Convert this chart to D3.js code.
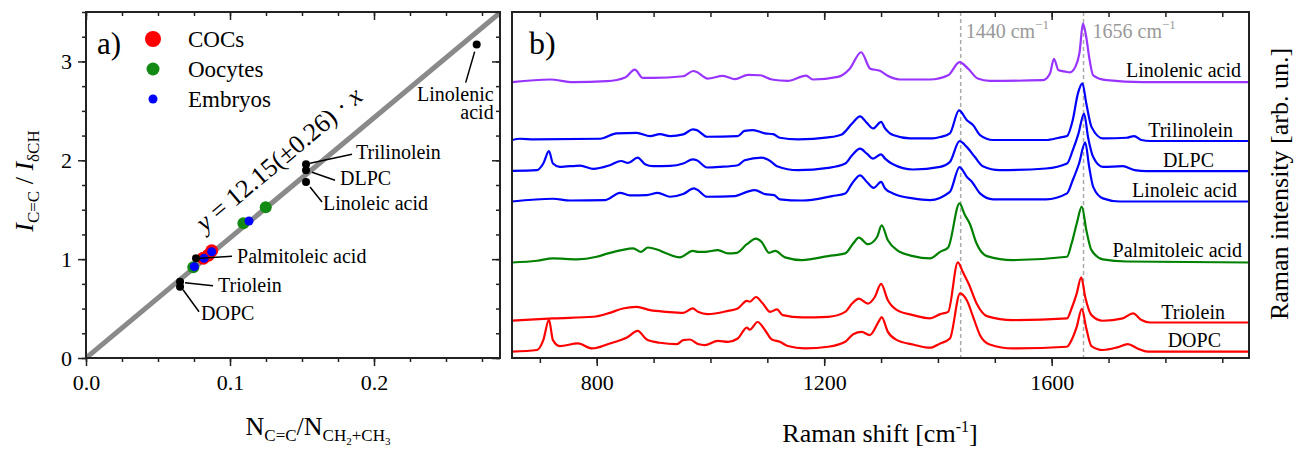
<!DOCTYPE html>
<html>
<head>
<meta charset="utf-8">
<script src="https://cdn.jsdelivr.net/npm/d3@7"></script>
<style>
  body { margin: 0; background: #fff; }
  svg, svg text { font-family: "Liberation Serif", "Times New Roman", serif; }
</style>
</head>
<body>
<svg id="chart" width="1306" height="452"></svg>
<script>
// ---- panel a data ----
const slope = 12.15;
const cocs = [[0.0815, 1.01], [0.085, 1.04], [0.0873, 1.085]];
const oocytes = [[0.0745, 0.917], [0.1093, 1.362], [0.1248, 1.524]];
const embryos = [[0.0752, 0.924], [0.082, 1.008], [0.0873, 1.075], [0.1132, 1.386]];
const refNames = ["Linolenic acid", "Trilinolein", "DLPC", "Linoleic acid", "Palmitoleic acid", "Triolein", "DOPC"];
const refX = [0.2713, 0.1528, 0.1528, 0.1528, 0.0764, 0.0653, 0.0653];
const refY = [3.17, 1.96, 1.90, 1.78, 1.008, 0.772, 0.721];
const aTicksX = [0, 0.1, 0.2];
const aTicksY = [0, 1, 2, 3];

// ---- panel b data (Raman shift, intensity above own offset) ----
const specNames = ["Linolenic acid", "Trilinolein", "DLPC", "Linoleic acid", "Palmitoleic acid", "Triolein", "DOPC"];
const specOffsets = [2.79, 2.195, 1.89, 1.583, 0.966, 0.369, 0.064];
const specColors = ["#9933ff", "#0000ff", "#0000ff", "#0000ff", "#008000", "#ff0000", "#ff0000"];

const linolenic = [[651,0],[718,0.027],[758,0],[818,0.01],[850,0.047],[867,0.127],[881,0.043],[899,0.043],[952,0.06],[970,0.113],[976,0.103],[995,0.037],[1022,0.063],[1043,0.03],[1066,0.073],[1087,0.07],[1108,0.027],[1136,0.013],[1168,0.067],[1180,0.027],[1224,0.053],[1245,0.137],[1265,0.303],[1281,0.137],[1298,0.115],[1310,0.07],[1333,0.027],[1386,0.027],[1418,0.07],[1438,0.203],[1453,0.137],[1470,0.037],[1491,0.013],[1585,0.02],[1597,0.087],[1604,0.237],[1612,0.12],[1622,0.11],[1632,0.10],[1642,0.16],[1649,0.30],[1655,0.593],[1661,0.45],[1666,0.25],[1673,0.07],[1697,0.02],[1760,0],[1947,0]];
const trilinolein = [[651,0.01],[665,0.023],[690,0.017],[806,0.023],[835,0.077],[870,0.083],[894,0.05],[911,0.07],[929,0.05],[952,0.067],[969,0.117],[976,0.11],[994,0.043],[1048,0.05],[1060,0.103],[1075,0.11],[1096,0.077],[1110,0.07],[1122,0.033],[1154,0.017],[1207,0.037],[1231,0.067],[1249,0.177],[1263,0.25],[1275,0.183],[1286,0.127],[1300,0.193],[1307,0.127],[1321,0.06],[1351,0.027],[1391,0.027],[1404,0.04],[1421,0.077],[1437,0.31],[1451,0.21],[1462,0.16],[1474,0.06],[1497,0.01],[1590,0.01],[1614,0.035],[1627,0.05],[1637,0.21],[1646,0.477],[1654,0.583],[1661,0.377],[1670,0.143],[1690,0.027],[1732,0.033],[1745,0.05],[1758,0.01],[1773,0],[1947,0]];
const dlpc = [[651,0.003],[695,0.01],[706,0.077],[716,0.203],[723,0.077],[735,0.043],[771,0.057],[794,0.023],[823,0.06],[843,0.103],[855,0.083],[872,0.137],[885,0.07],[899,0.05],[929,0.053],[952,0.077],[969,0.12],[976,0.11],[994,0.037],[1017,0.043],[1048,0.06],[1060,0.11],[1090,0.137],[1105,0.103],[1117,0.05],[1154,0.01],[1207,0.033],[1237,0.077],[1249,0.16],[1263,0.227],[1275,0.177],[1286,0.127],[1300,0.17],[1307,0.127],[1321,0.07],[1356,0.017],[1404,0.043],[1421,0.093],[1438,0.303],[1451,0.243],[1465,0.143],[1479,0.05],[1509,0.01],[1590,0.027],[1627,0.077],[1637,0.21],[1647,0.377],[1657,0.583],[1664,0.343],[1673,0.143],[1690,0.043],[1725,0.05],[1746,0.01],[1767,0],[1947,0]];
const linoleic = [[651,0],[723,0.028],[753,0.01],[815,0.015],[841,0.088],[858,0.062],[888,0.065],[907,0.088],[929,0.048],[952,0.075],[971,0.132],[976,0.122],[994,0.048],[1043,0.055],[1064,0.098],[1078,0.115],[1096,0.075],[1112,0.065],[1122,0.022],[1161,0.01],[1214,0.055],[1237,0.082],[1249,0.182],[1263,0.265],[1275,0.198],[1287,0.138],[1300,0.198],[1307,0.132],[1321,0.082],[1356,0.032],[1386,0.015],[1421,0.098],[1438,0.348],[1451,0.248],[1460,0.198],[1474,0.082],[1497,0.022],[1590,0.022],[1627,0.082],[1637,0.215],[1648,0.382],[1659,0.598],[1666,0.348],[1673,0.148],[1690,0.032],[1720,0],[1947,0]];
const palmitoleic = [[651,0],[695,0.018],[723,0.042],[765,0.032],[800,0.058],[820,0.092],[844,0.125],[864,0.142],[878,0.108],[890,0.152],[906,0.132],[923,0.092],[946,0.052],[969,0.118],[978,0.108],[990,0.108],[1013,0.125],[1031,0.092],[1046,0.098],[1064,0.185],[1080,0.242],[1090,0.208],[1103,0.098],[1114,0.118],[1131,0.052],[1161,0.025],[1207,0.065],[1237,0.092],[1251,0.192],[1261,0.252],[1277,0.185],[1293,0.258],[1301,0.375],[1312,0.225],[1328,0.125],[1356,0.065],[1386,0.042],[1404,0.108],[1418,0.152],[1438,0.598],[1447,0.485],[1456,0.392],[1468,0.192],[1486,0.065],[1532,0.025],[1627,0.058],[1635,0.192],[1644,0.392],[1653,0.565],[1661,0.325],[1670,0.125],[1690,0.032],[1732,0.01],[1947,0]];
const triolein = [[651,0.008],[723,0.032],[794,0.048],[823,0.088],[846,0.132],[870,0.148],[894,0.115],[923,0.098],[952,0.088],[969,0.132],[978,0.098],[995,0.075],[1031,0.108],[1048,0.132],[1064,0.208],[1069,0.2],[1080,0.248],[1092,0.182],[1105,0.098],[1117,0.122],[1127,0.065],[1161,0.042],[1207,0.048],[1237,0.098],[1249,0.182],[1261,0.232],[1277,0.182],[1289,0.248],[1300,0.38],[1312,0.215],[1328,0.115],[1356,0.065],[1386,0.032],[1404,0.075],[1418,0.098],[1435,0.598],[1444,0.498],[1454,0.382],[1468,0.182],[1486,0.055],[1532,0.015],[1627,0.032],[1635,0.132],[1644,0.282],[1652,0.448],[1659,0.248],[1670,0.065],[1690,0.008],[1725,0.032],[1743,0.082],[1758,0.015],[1773,-0.01],[1947,-0.01]];
const dopc = [[651,0],[695,0.017],[706,0.117],[716,0.323],[723,0.117],[735,0.057],[767,0.083],[792,0.033],[823,0.083],[853,0.143],[872,0.21],[888,0.123],[911,0.09],[941,0.077],[952,0.117],[964,0.123],[978,0.077],[990,0.067],[1013,0.11],[1031,0.1],[1048,0.133],[1064,0.243],[1069,0.223],[1083,0.3],[1096,0.217],[1108,0.123],[1122,0.1],[1136,0.057],[1166,0.033],[1207,0.05],[1237,0.1],[1251,0.177],[1266,0.2],[1280,0.167],[1297,0.317],[1301,0.35],[1312,0.2],[1328,0.117],[1356,0.073],[1386,0.04],[1404,0.083],[1421,0.133],[1439,0.59],[1451,0.517],[1462,0.35],[1474,0.167],[1491,0.073],[1532,0.033],[1627,0.05],[1635,0.117],[1644,0.25],[1653,0.433],[1661,0.233],[1670,0.057],[1690,0.017],[1715,0.043],[1734,0.077],[1751,0.033],[1769,0],[1947,0]];
const spectra = [linolenic, trilinolein, dlpc, linoleic, palmitoleic, triolein, dopc];
const markedShifts = [1440, 1656];
const bTicksX = [800, 1200, 1600];

const serif = "'Liberation Serif', 'Times New Roman', serif";
const svg = d3.select("#chart").attr("font-family", serif);
const frameColor = "#222";

// ================= panel a =================
const ax = { left: 86, right: 500, top: 12, bottom: 358 };
const xA = d3.scaleLinear().domain([0, 0.2875]).range([ax.left, ax.right]);
const yA = d3.scaleLinear().domain([0, 3.5]).range([ax.bottom, ax.top]);

svg.append("clipPath").attr("id", "clipA")
  .append("rect").attr("x", ax.left).attr("y", ax.top)
  .attr("width", ax.right - ax.left).attr("height", ax.bottom - ax.top);

const gA = svg.append("g");

// fit line
gA.append("line")
  .attr("clip-path", "url(#clipA)")
  .attr("x1", xA(0)).attr("y1", yA(0))
  .attr("x2", xA(0.2875)).attr("y2", yA(slope * 0.2875))
  .attr("stroke", "#8a8a8a").attr("stroke-width", 5);

const dots = (data, color, r) => {
  gA.selectAll(null).data(data).enter().append("circle")
    .attr("cx", d => xA(d[0])).attr("cy", d => yA(d[1]))
    .attr("r", r).attr("fill", color);
};
dots(oocytes, "#138a13", 6);
dots(cocs, "#ff0000", 6.5);
dots(embryos, "#0000ff", 4.5);
dots(refX.map((x, i) => [x, refY[i]]), "#000", 4);

// reference labels with leader lines (pixel offsets from the point)
const refLabels = [
  { lead: [-2, 7, -11, 38], text: [17, 56], anchor: "end", lines: ["Linolenic", "acid"] },
  { lead: [4, -1, 46, -10], text: [50, -5] },
  { lead: [6, 2, 29, 10], text: [34, 15] },
  { lead: [4, 5, 16, 20], text: [17, 28] },
  { lead: [4, 0, 36, -2], text: [41, 5] },
  { lead: [5, 1, 33, 4], text: [38, 10] },
  { lead: [3, 3, 19, 25], text: [21, 33] }
];
refLabels.forEach((L, i) => {
  const px = xA(refX[i]), py = yA(refY[i]);
  gA.append("line")
    .attr("x1", px + L.lead[0]).attr("y1", py + L.lead[1])
    .attr("x2", px + L.lead[2]).attr("y2", py + L.lead[3])
    .attr("stroke", "#000").attr("stroke-width", 1.5);
  if (L.lines) {
    L.lines.forEach((s, k) => {
      gA.append("text")
        .attr("x", px + L.text[0]).attr("y", py + L.text[1] + k * 18)
        .attr("font-size", 20).attr("text-anchor", "end").text(s);
    });
  } else {
    gA.append("text")
      .attr("x", px + L.text[0]).attr("y", py + L.text[1])
      .attr("font-size", 20).text(refNames[i]);
  }
});

// equation along the line
const eqX = 0.147;
const eq = gA.append("text")
  .attr("transform", `translate(${xA(eqX)},${yA(slope * eqX)}) rotate(-40)`)
  .attr("y", -20.5).attr("text-anchor", "middle").attr("font-size", 26);
eq.append("tspan").attr("font-style", "italic").text("y");
eq.append("tspan").text(" = 12.15(\u00b10.26) \u00b7 ");
eq.append("tspan").attr("font-style", "italic").text("x");

// legend
const legend = [["COCs", "#ff0000", 8], ["Oocytes", "#138a13", 6.5], ["Embryos", "#0000ff", 4.5]];
legend.forEach((d, i) => {
  gA.append("circle").attr("cx", 153).attr("cy", 39 + i * 30).attr("r", d[2]).attr("fill", d[1]);
  gA.append("text").attr("x", 188).attr("y", 47 + i * 30).attr("font-size", 23).text(d[0]);
});
gA.append("text").attr("x", 97).attr("y", 54).attr("font-size", 31).text("a)");

// axes for a
const styleAxis = (g) => {
  g.attr("font-family", serif);
  g.select(".domain").remove();
  g.selectAll("line").attr("stroke", frameColor).attr("stroke-width", 1.5);
  g.selectAll("text").attr("font-size", 22).attr("fill", "#000");
};
const minorXA = d3.range(0, 0.2876, 0.025);
const minorYA = d3.range(0, 3.51, 0.25);
gA.append("g").attr("transform", `translate(0,${ax.bottom})`)
  .call(d3.axisBottom(xA).tickValues(minorXA).tickSize(4).tickFormat("")).call(styleAxis);
gA.append("g").attr("transform", `translate(0,${ax.bottom})`)
  .call(d3.axisBottom(xA).tickValues(aTicksX).tickSize(8).tickPadding(8.5).tickFormat(d3.format(".1f"))).call(styleAxis);
gA.append("g").attr("transform", `translate(0,${ax.top})`)
  .call(d3.axisBottom(xA).tickValues(minorXA).tickSize(4).tickFormat("")).call(styleAxis);
gA.append("g").attr("transform", `translate(0,${ax.top})`)
  .call(d3.axisBottom(xA).tickValues(aTicksX).tickSize(8).tickFormat("")).call(styleAxis);
gA.append("g").attr("transform", `translate(${ax.left},0)`)
  .call(d3.axisLeft(yA).tickValues(minorYA).tickSize(4).tickFormat("")).call(styleAxis);
gA.append("g").attr("transform", `translate(${ax.left},0)`)
  .call(d3.axisLeft(yA).tickValues(aTicksY).tickSize(8).tickPadding(6).tickFormat(d3.format("d"))).call(styleAxis);
gA.append("g").attr("transform", `translate(${ax.right},0)`)
  .call(d3.axisLeft(yA).tickValues(minorYA).tickSize(4).tickFormat("")).call(styleAxis);
gA.append("g").attr("transform", `translate(${ax.right},0)`)
  .call(d3.axisLeft(yA).tickValues(aTicksY).tickSize(8).tickFormat("")).call(styleAxis);

gA.append("rect").attr("x", ax.left).attr("y", ax.top)
  .attr("width", ax.right - ax.left).attr("height", ax.bottom - ax.top)
  .attr("fill", "none").attr("stroke", frameColor).attr("stroke-width", 2);

// axis titles a
const yLab = svg.append("text").attr("transform", "translate(33,181) rotate(-90)")
  .attr("text-anchor", "middle").attr("font-size", 26);
yLab.append("tspan").attr("font-style", "italic").text("I");
yLab.append("tspan").attr("font-size", 17).attr("dy", 6).text("C=C");
yLab.append("tspan").attr("dy", -6).text(" / ");
yLab.append("tspan").attr("font-style", "italic").text("I");
yLab.append("tspan").attr("font-size", 17).attr("dy", 6).text("\u03b4CH");

const xLab = svg.append("text").attr("x", 318).attr("y", 435)
  .attr("text-anchor", "middle").attr("font-size", 26);
xLab.append("tspan").text("N");
xLab.append("tspan").attr("font-size", 17).attr("dy", 6).text("C=C");
xLab.append("tspan").attr("dy", -6).text("/N");
xLab.append("tspan").attr("font-size", 17).attr("dy", 6).text("CH");
xLab.append("tspan").attr("font-size", 11).attr("dy", 4).text("2");
xLab.append("tspan").attr("font-size", 17).attr("dy", -4).text("+CH");
xLab.append("tspan").attr("font-size", 11).attr("dy", 4).text("3");

// ================= panel b =================
const bx = { left: 512, right: 1249, top: 12, bottom: 358 };
const xB = d3.scaleLinear().domain([651, 1947]).range([bx.left, bx.right]);
const yB = d3.scaleLinear().domain([0, 3.5]).range([bx.bottom, bx.top]);

svg.append("clipPath").attr("id", "clipB")
  .append("rect").attr("x", bx.left).attr("y", bx.top)
  .attr("width", bx.right - bx.left).attr("height", bx.bottom - bx.top);

const gB = svg.append("g");

// marker lines
markedShifts.forEach((s, i) => {
  gB.append("line")
    .attr("x1", xB(s)).attr("x2", xB(s)).attr("y1", bx.top).attr("y2", bx.bottom)
    .attr("stroke", "#aaa").attr("stroke-width", 1.5).attr("stroke-dasharray", "4,3");
  const t = gB.append("text").attr("x", xB(s) + (i ? 9 : 5)).attr("y", 38)
    .attr("font-size", 20).attr("fill", "#999");
  t.append("tspan").text(s + " cm");
  t.append("tspan").attr("font-size", 13).attr("dy", -9).text("\u22121");
});

spectra.forEach((sp, i) => {
  const line = d3.line()
    .x(d => xB(d[0]))
    .y(d => yB(d[1] + specOffsets[i]))
    .curve(d3.curveMonotoneX);
  gB.append("path").datum(sp)
    .attr("clip-path", "url(#clipB)")
    .attr("d", line)
    .attr("fill", "none")
    .attr("stroke", specColors[i])
    .attr("stroke-width", 2.2)
    .attr("stroke-linejoin", "round");
});

// spectrum names (right end x, pixels above own baseline)
const specLabelPos = [[1241, 5], [1233, 4.5], [1214, 4.5], [1237, 4.5], [1242, 6], [1225, 3], [1221, 4.5]];
specNames.forEach((n, i) => {
  gB.append("text")
    .attr("x", specLabelPos[i][0]).attr("y", yB(specOffsets[i]) - specLabelPos[i][1])
    .attr("text-anchor", "end").attr("font-size", 20).text(n);
});

gB.append("text").attr("x", 529).attr("y", 54).attr("font-size", 32).text("b)");

const minorXB = d3.range(700, 1901, 100);
gB.append("g").attr("transform", `translate(0,${bx.bottom})`)
  .call(d3.axisBottom(xB).tickValues(minorXB).tickSize(5).tickFormat("")).call(styleAxis);
gB.append("g").attr("transform", `translate(0,${bx.bottom})`)
  .call(d3.axisBottom(xB).tickValues(bTicksX).tickSize(8).tickPadding(8.5).tickFormat(d3.format("d"))).call(styleAxis);
gB.append("g").attr("transform", `translate(0,${bx.top})`)
  .call(d3.axisBottom(xB).tickValues(minorXB).tickSize(5).tickFormat("")).call(styleAxis);
gB.append("g").attr("transform", `translate(0,${bx.top})`)
  .call(d3.axisBottom(xB).tickValues(bTicksX).tickSize(8).tickFormat("")).call(styleAxis);

gB.append("rect").attr("x", bx.left).attr("y", bx.top)
  .attr("width", bx.right - bx.left).attr("height", bx.bottom - bx.top)
  .attr("fill", "none").attr("stroke", frameColor).attr("stroke-width", 2);

const xLabB = svg.append("text").attr("x", 880).attr("y", 442)
  .attr("text-anchor", "middle").attr("font-size", 26);
xLabB.append("tspan").text("Raman shift [cm");
xLabB.append("tspan").attr("font-size", 16).attr("dy", -10).text("-1");
xLabB.append("tspan").attr("dy", 10).text("]");

svg.append("text").attr("transform", "translate(1288,184) rotate(-90)")
  .attr("text-anchor", "middle").attr("font-size", 26).text("Raman intensity [arb. un.]");

svg.selectAll("text").attr("font-family", serif);
</script>
</body>
</html>
